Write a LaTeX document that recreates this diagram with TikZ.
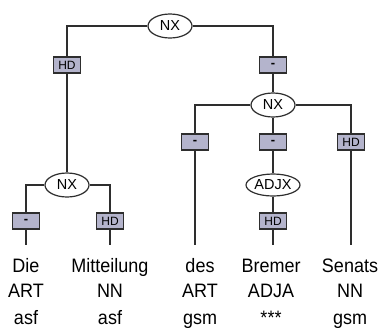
\documentclass[tikz,border=0pt]{standalone}
\usepackage{fontspec}
\setmainfont{Liberation Sans}
\usetikzlibrary{shapes.geometric}
\definecolor{edgegray}{HTML}{2E2E2E}
\definecolor{tagfill}{HTML}{B4B4CC}
\newcommand{\tallword}[1]{\scalebox{1}[1.08]{#1}}
\tikzset{
  cat/.style={ellipse, draw=edgegray, line width=1.2pt, fill=white, inner sep=0pt,
    minimum width=44pt, minimum height=24pt, font=\fontsize{14.5}{14.5}\selectfont},
  tag/.style={rectangle, draw=edgegray, line width=1.4pt, fill=tagfill, inner sep=0pt,
    minimum width=27pt, minimum height=16pt, font=\fontsize{12}{12}\selectfont},
  dashtag/.style={tag, font=\fontsize{13}{13}\selectfont\bfseries},
  word/.style={anchor=base, inner sep=0pt, font=\fontsize{18}{18}\selectfont},
  link/.style={draw=edgegray, line width=1.5pt}
}
\begin{document}
\begin{tikzpicture}[x=1pt, y=-1pt]
\useasboundingbox (0,0) rectangle (382,327);

% phrase nodes
\node[cat] (nxtop) at (170,26) {NX};
\node[cat] (nxright) at (273,105) {NX};
\node[cat] (nxleft) at (67,185) {NX};
\node[cat, minimum width=54pt, minimum height=22pt] (adjx) at (273,185) {ADJX};

% edge labels
\node[tag] (hdtop) at (67,65) {HD};
\node[dashtag] (dashtop) at (273,65) {-};
\node[dashtag] (dashdes) at (195,142) {-};
\node[dashtag] (dashbremer) at (273,142) {-};
\node[tag] (hdsenats) at (351,142) {HD};
\node[dashtag] (dashdie) at (26,221) {-};
\node[tag] (hdmitt) at (110,221) {HD};
\node[tag] (hdbremer) at (273,221) {HD};

% lower ends of the leaf edges
\coordinate (leafdie) at (26,245);
\coordinate (leafmitt) at (110,245);
\coordinate (leafdes) at (195,245);
\coordinate (leafbremer) at (273,245);
\coordinate (leafsenats) at (351,245);

% connectors
\draw[link] (nxtop) -| (hdtop);
\draw[link] (nxtop) -| (dashtop);
\draw[link] (hdtop) -- (nxleft);
\draw[link] (dashtop) -- (nxright);
\draw[link] (nxright) -| (dashdes);
\draw[link] (nxright) -- (dashbremer);
\draw[link] (nxright) -| (hdsenats);
\draw[link] (nxleft) -| (dashdie);
\draw[link] (nxleft) -| (hdmitt);
\draw[link] (dashbremer) -- (adjx);
\draw[link] (adjx) -- (hdbremer);
\draw[link] (dashdie) -- (leafdie);
\draw[link] (hdmitt) -- (leafmitt);
\draw[link] (dashdes) -- (leafdes);
\draw[link] (hdbremer) -- (leafbremer);
\draw[link] (hdsenats) -- (leafsenats);

% tokens: word, part of speech, morphology
\node[word] (w1) at (26,272) {\tallword{Die}};
\node[word] (p1) at (26,297) {\tallword{ART}};
\node[word] (m1) at (26,324) {\tallword{asf}};
\node[word] (w2) at (110,272) {\tallword{Mitteilung}};
\node[word] (p2) at (110,297) {\tallword{NN}};
\node[word] (m2) at (110,324) {\tallword{asf}};
\node[word] (w3) at (200,272) {\tallword{des}};
\node[word] (p3) at (200,297) {\tallword{ART}};
\node[word] (m3) at (200,324) {\tallword{gsm}};
\node[word] (w4) at (271,272) {\tallword{Bremer}};
\node[word] (p4) at (271,297) {\tallword{ADJA}};
\node[word] (m4) at (271,324) {\tallword{***}};
\node[word] (w5) at (350,272) {\tallword{Senats}};
\node[word] (p5) at (350,297) {\tallword{NN}};
\node[word] (m5) at (350,324) {\tallword{gsm}};
\end{tikzpicture}
\end{document}
